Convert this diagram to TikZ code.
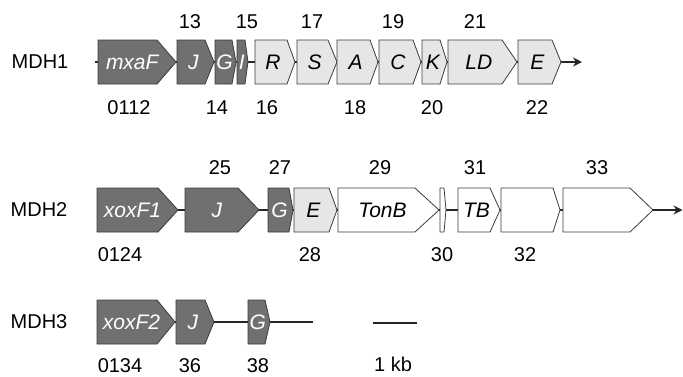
\documentclass[tikz,border=0pt]{standalone}
\usepackage{fontspec}
\setmainfont{Liberation Sans}
\usetikzlibrary{arrows.meta}

\definecolor{genedark}{RGB}{112,112,112}
\definecolor{genelight}{RGB}{230,230,230}
\definecolor{geneline}{RGB}{60,60,60}

\tikzset{
  darkgene/.style={fill=genedark, draw=geneline, line width=0.8pt, line join=miter},
  lightgene/.style={fill=genelight, draw=geneline, line width=0.8pt, line join=miter},
  whitegene/.style={fill=white, draw=geneline, line width=0.8pt, line join=miter},
  backbone/.style={draw=black!85, line width=1.5pt},
  darklabel/.style={text=white, font=\fontsize{21}{25}\selectfont\itshape, inner sep=0pt},
  lightlabel/.style={text=black, font=\fontsize{21}{25}\selectfont\itshape, inner sep=0pt},
  numlabel/.style={font=\fontsize{20}{24}\selectfont, inner sep=0pt},
  rowlabel/.style={font=\fontsize{20}{24}\selectfont, inner sep=0pt},
}

% gene arrow: #1 name, #2 style, #3 left, #4 shoulder, #5 tip, #6 centre y, #7 label style, #8 text
\newcommand\genearrow[8]{%
  \draw[#2] (#3,#6-22) -- (#4,#6-22) -- (#5,#6) -- (#4,#6+22) -- (#3,#6+22) -- cycle;
  \coordinate (#1-l) at (#3,#6);
  \coordinate (#1-r) at (#5,#6);
  \node[#7] (#1) at ({(#3+(#4+#5)/2)/2},#6) {#8};
}

\begin{document}
\begin{tikzpicture}[x=1pt, y=-1pt]
\useasboundingbox (0,0) rectangle (683,376);

% ---------- MDH1 ----------
\node[rowlabel] (mdh1) at (40,62) {MDH1};
\coordinate (r1start) at (95,62);
\coordinate (r1end) at (582,62);
\draw[backbone, -{Stealth[length=9pt, width=9pt]}] (r1start) -- (r1end);
\genearrow{mxaF}{darkgene}{98}{157}{176}{62}{darklabel}{mxaF}
\genearrow{J1}{darkgene}{177}{205}{214}{62}{darklabel}{J}
\genearrow{G1}{darkgene}{215}{232}{236}{62}{darklabel}{G}
\genearrow{I1}{darkgene}{237}{245}{248}{62}{darklabel}{I}
\genearrow{R1}{lightgene}{255}{287}{295}{62}{lightlabel}{R}
\genearrow{S1}{lightgene}{297}{328}{337}{62}{lightlabel}{S}
\genearrow{A1}{lightgene}{337}{370}{378}{62}{lightlabel}{A}
\genearrow{C1}{lightgene}{379}{413}{421}{62}{lightlabel}{C}
\genearrow{K1}{lightgene}{422}{440}{447}{62}{lightlabel}{K}
\genearrow{LD1}{lightgene}{448}{502}{517}{62}{lightlabel}{LD}
\genearrow{E1}{lightgene}{518}{552}{561}{62}{lightlabel}{E}

\node[numlabel] (n13) at (190,22) {13};
\node[numlabel] (n15) at (247,22) {15};
\node[numlabel] (n17) at (312,22) {17};
\node[numlabel] (n19) at (393,22) {19};
\node[numlabel] (n21) at (475,22) {21};
\node[numlabel] (n0112) at (129,108) {0112};
\node[numlabel] (n14) at (217,108) {14};
\node[numlabel] (n16) at (267,108) {16};
\node[numlabel] (n18) at (355,108) {18};
\node[numlabel] (n20) at (432,108) {20};
\node[numlabel] (n22) at (537,108) {22};

% ---------- MDH2 ----------
\node[rowlabel] (mdh2) at (39,210) {MDH2};
\coordinate (r2start) at (97,210);
\coordinate (r2end) at (682.5,210);
\draw[backbone, -{Stealth[length=9pt, width=9pt]}] (r2start) -- (r2end);
\genearrow{xoxF1}{darkgene}{97}{158}{178}{210}{darklabel}{xoxF1}
\genearrow{J2}{darkgene}{185}{238}{259}{210}{darklabel}{J}
\genearrow{G2}{darkgene}{268}{289}{293}{210}{darklabel}{G}
\genearrow{E2}{lightgene}{294}{329}{337}{210}{lightlabel}{E}
\genearrow{TonB}{whitegene}{338}{415}{439}{210}{lightlabel}{TonB}
\genearrow{g30}{whitegene}{440}{444}{446}{210}{lightlabel}{}
\genearrow{TB}{whitegene}{458}{490}{500}{210}{lightlabel}{TB}
\genearrow{g32}{whitegene}{501}{553}{560}{210}{lightlabel}{}
\genearrow{g33}{whitegene}{563}{630}{653}{210}{lightlabel}{}

\node[numlabel] (n25) at (220,168) {25};
\node[numlabel] (n27) at (280,168) {27};
\node[numlabel] (n29) at (380,168) {29};
\node[numlabel] (n31) at (475,168) {31};
\node[numlabel] (n33) at (597,168) {33};
\node[numlabel] (n0124) at (120,255) {0124};
\node[numlabel] (n28) at (310,255) {28};
\node[numlabel] (n30) at (442,255) {30};
\node[numlabel] (n32) at (525,255) {32};

% ---------- MDH3 ----------
\node[rowlabel] (mdh3) at (39,322) {MDH3};
\coordinate (r3start) at (97,322);
\coordinate (r3end) at (313,322);
\draw[backbone, line width=1.2pt] (r3start) -- (r3end);
\genearrow{xoxF2}{darkgene}{97}{157}{175}{322}{darklabel}{xoxF2}
\genearrow{J3}{darkgene}{176}{205}{214}{322}{darklabel}{J}
\genearrow{G3}{darkgene}{248}{265}{270}{322}{darklabel}{G}

\node[numlabel] (n0134) at (120,366) {0134};
\node[numlabel] (n36) at (190,366) {36};
\node[numlabel] (n38) at (258,366) {38};

% scale bar
\coordinate (sbl) at (373,323);
\coordinate (sbr) at (417,323);
\draw[backbone, line width=1.2pt] (sbl) -- (sbr);
\node[numlabel] (kb) at (393,364) {1 kb};
\end{tikzpicture}
\end{document}
